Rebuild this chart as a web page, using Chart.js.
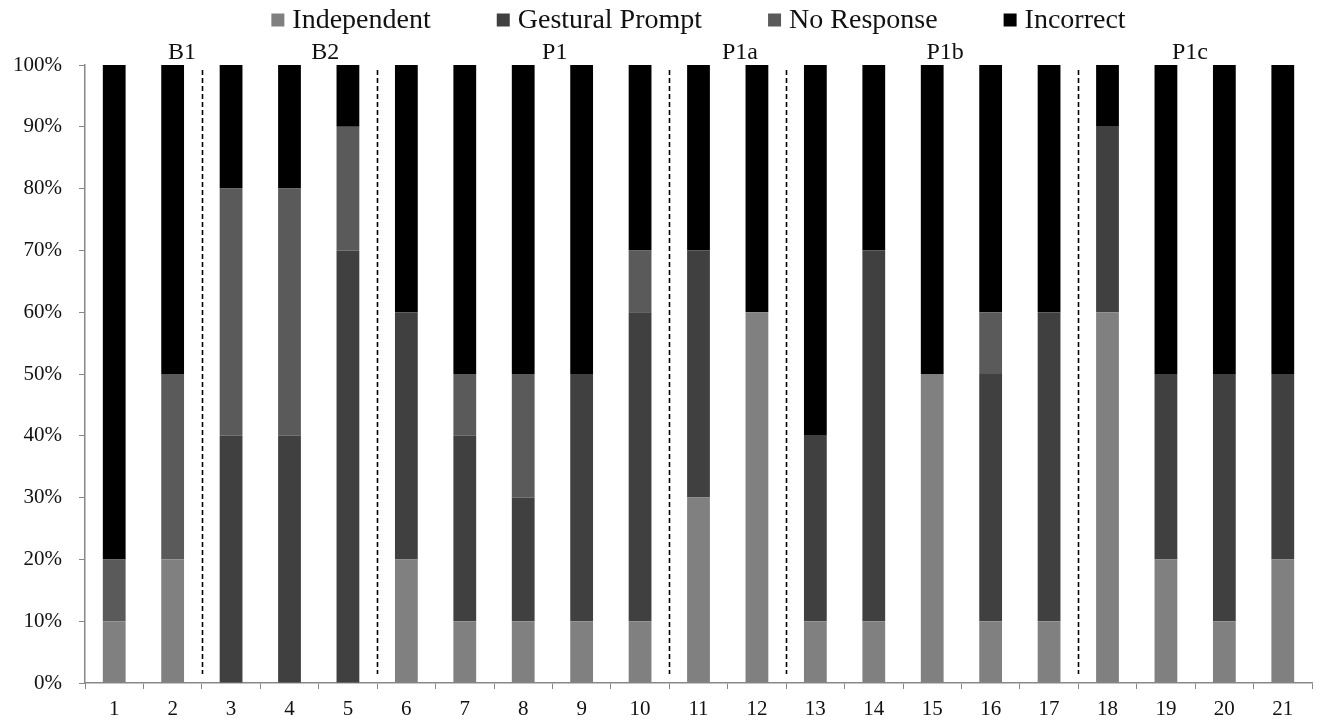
<!DOCTYPE html>
<html>
<head>
<meta charset="utf-8">
<script src="https://cdn.jsdelivr.net/npm/chart.js@4.4.1/dist/chart.umd.min.js"></script>
<style>
  html, body { margin: 0; padding: 0; background: #fff; }
  #wrap { width: 1331px; height: 723px; }
</style>
</head>
<body>
<div id="wrap"><canvas id="grafico"></canvas></div>
<script>
// Sesiones (eje X)
const sesiones = ['1','2','3','4','5','6','7','8','9','10','11','12','13','14','15','16','17','18','19','20','21'];

// Porcentaje de respuestas por sesión
const independiente = [10, 20, 0, 0, 0, 20, 10, 10, 10, 10, 30, 60, 10, 10, 50, 10, 10, 60, 20, 10, 20];
const gestual       = [0, 0, 40, 40, 70, 40, 30, 20, 40, 50, 40, 0, 30, 60, 0, 40, 50, 30, 30, 40, 30];
const sinRespuesta  = [10, 30, 40, 40, 20, 0, 10, 20, 0, 10, 0, 0, 0, 0, 0, 10, 0, 0, 0, 0, 0];
const incorrecta    = [80, 50, 20, 20, 10, 40, 50, 50, 50, 30, 30, 40, 60, 30, 50, 40, 40, 10, 50, 50, 50];

// Fases: etiqueta, posición (en sesiones) y cortes tras la sesión indicada
const fases = ['B1', 'B2', 'P1', 'P1a', 'P1b', 'P1c'];
const posFases = [1.16, 3.61, 7.54, 10.71, 14.22, 18.41];
const cortesFase = [2, 5, 10, 12, 17];

// Ticks eje Y
const ticksY = [0, 10, 20, 30, 40, 50, 60, 70, 80, 90, 100];

const fuente = '"Liberation Serif", "Times New Roman", serif';

// Leyenda dibujada a mano para respetar el espaciado del original
const leyendaPlugin = {
  id: 'leyendaManual',
  afterDraw(chart) {
    const ctx = chart.ctx;
    const area = chart.chartArea;
    ctx.save();
    ctx.font = '28px ' + fuente;
    ctx.textBaseline = 'middle';
    const caja = 13, sepTexto = 8, sepItem = 66;
    const items = chart.data.datasets.map(d => ({ texto: d.label, color: d.backgroundColor }));
    const anchos = items.map(it => caja + sepTexto + ctx.measureText(it.texto).width);
    const total = anchos.reduce((a, b) => a + b, 0) + sepItem * (items.length - 1);
    let x = (area.left + area.right) / 2 - total / 2;
    const y = 20;
    items.forEach((it, i) => {
      ctx.fillStyle = it.color;
      ctx.fillRect(x, y - caja / 2, caja, caja);
      ctx.fillStyle = '#111';
      ctx.fillText(it.texto, x + caja + sepTexto, y + 1);
      x += anchos[i] + sepItem;
    });
    ctx.restore();
  }
};

// Líneas de cambio de fase y etiquetas
const fasesPlugin = {
  id: 'fases',
  afterDatasetsDraw(chart) {
    const ctx = chart.ctx;
    const ejeX = chart.scales.x;
    const ejeY = chart.scales.y;
    const anchoCat = ejeX.width / sesiones.length;
    ctx.save();
    ctx.strokeStyle = '#000';
    ctx.lineWidth = 1.6;
    ctx.setLineDash([5, 3]);
    cortesFase.forEach(c => {
      const x = Math.round(ejeX.left + c * anchoCat) + 0.5;
      ctx.beginPath();
      ctx.moveTo(x, ejeY.top + 5);
      ctx.lineTo(x, ejeY.bottom - 9);
      ctx.stroke();
    });
    ctx.setLineDash([]);
    ctx.fillStyle = '#111';
    ctx.font = '24px ' + fuente;
    ctx.textAlign = 'center';
    ctx.textBaseline = 'middle';
    fases.forEach((f, i) => {
      const x = ejeX.left + (posFases[i] + 0.5) * anchoCat;
      ctx.fillText(f, x, ejeY.top - 12);
    });
    ctx.restore();
  }
};

const ctx = document.getElementById('grafico').getContext('2d');
new Chart(ctx, {
  type: 'bar',
  data: {
    labels: sesiones,
    datasets: [
      { label: 'Independent', data: independiente, backgroundColor: '#808080' },
      { label: 'Gestural Prompt', data: gestual, backgroundColor: '#404040' },
      { label: 'No Response', data: sinRespuesta, backgroundColor: '#5a5a5a' },
      { label: 'Incorrect', data: incorrecta, backgroundColor: '#000000' }
    ]
  },
  options: {
    responsive: true,
    maintainAspectRatio: false,
    animation: false,
    datasets: {
      bar: { barPercentage: 0.39, categoryPercentage: 1 }
    },
    layout: { padding: { top: 65, right: 19, bottom: 0, left: 0 } },
    plugins: {
      legend: { display: false },
      tooltip: { enabled: false }
    },
    scales: {
      x: {
        stacked: true,
        grid: { drawOnChartArea: false, tickLength: 6, color: '#888', offset: true },
        border: { color: '#888', width: 1.5 },
        ticks: { color: '#111', padding: 8, font: { family: fuente, size: 21 } },
        afterFit(scale) { scale.height = 40; }
      },
      y: {
        stacked: true,
        min: 0,
        max: 100,
        afterBuildTicks(scale) { scale.ticks = ticksY.map(v => ({ value: v })); },
        grid: { drawOnChartArea: false, tickLength: 6, color: '#888' },
        border: { color: '#888', width: 1.5 },
        ticks: {
          color: '#111',
          padding: 17,
          font: { family: fuente, size: 21 },
          callback: v => v + '%'
        },
        afterFit(scale) { scale.width = 85; }
      }
    }
  },
  plugins: [leyendaPlugin, fasesPlugin]
});
</script>
</body>
</html>
